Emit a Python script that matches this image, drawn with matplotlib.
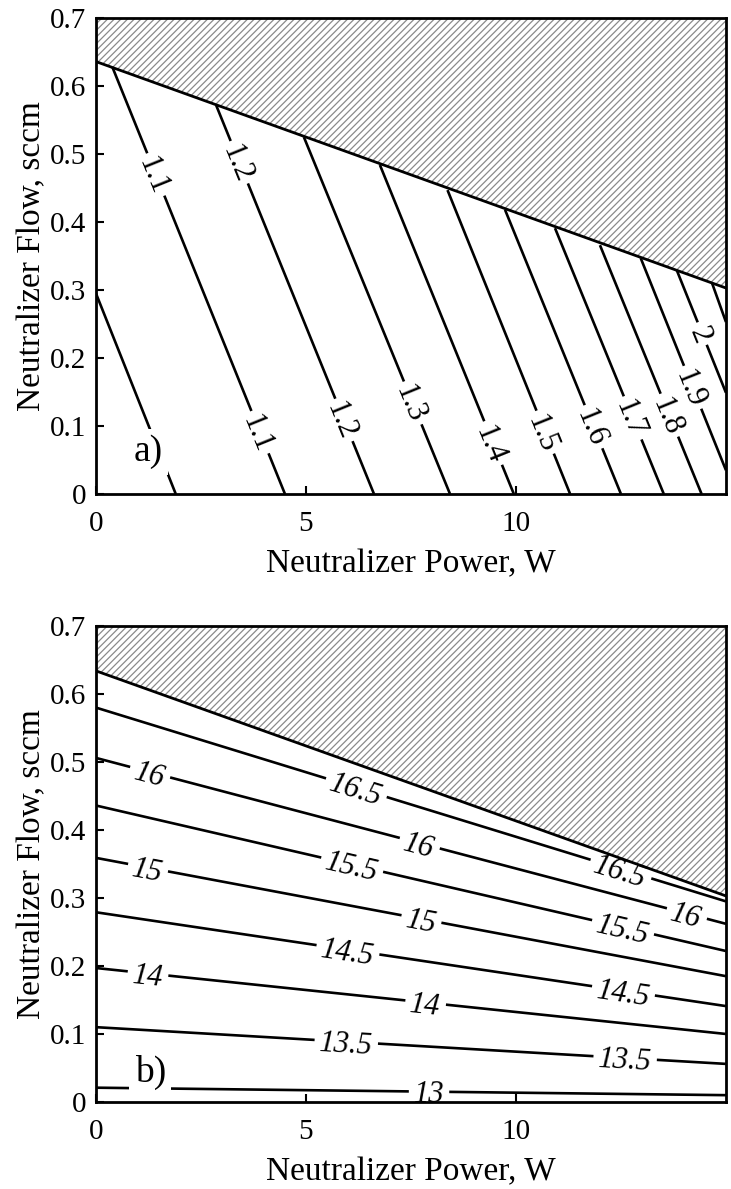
import matplotlib
matplotlib.use("Agg")
import matplotlib.pyplot as plt
import numpy as np
from matplotlib.font_manager import FontProperties
from matplotlib.textpath import TextPath

plt.rcParams["font.family"] = ["Liberation Serif", "DejaVu Serif"]
plt.rcParams["hatch.color"] = "#8a8a8a"
plt.rcParams["hatch.linewidth"] = 0.9

# ---- panel a: contour lines (upper end, lower end) ----
a_levels = [1.0, 1.1, 1.2, 1.3, 1.4, 1.5, 1.6, 1.7, 1.8, 1.9, 2.0, 2.1]
a_x_top = [0.0, 0.39, 2.86, 4.95, 6.76, 8.37, 9.74, 10.93, 12.0, 12.97, 13.83, 14.67]
a_y_top = [0.295, 0.628, 0.572, 0.525, 0.484, 0.447, 0.418, 0.391, 0.366, 0.347, 0.329, 0.31]
a_x_bot = [1.90, 4.50, 6.62, 8.43, 9.95, 11.29, 12.5, 13.52, 14.42, 15.0, 15.0, 15.0]
a_y_bot = [0, 0, 0, 0, 0, 0, 0, 0, 0, 0.035, 0.149, 0.253]
# inline labels: level and y position on the line
a_lab_level = [1.1, 1.2, 1.1, 1.2, 1.3, 1.4, 1.5, 1.6, 1.7, 1.8, 1.9, 2.0]
a_lab_y = [0.47, 0.488, 0.091, 0.109, 0.134, 0.075, 0.091, 0.099, 0.112, 0.116, 0.157, 0.236]
a_bound_x = [0, 15]
a_bound_y = [0.636, 0.303]

# ---- panel b: contour lines (left end at x=0, right end at x=15) ----
b_levels = [13, 13.5, 14, 14.5, 15, 15.5, 16, 16.5]
b_y_left = [0.021, 0.110, 0.197, 0.279, 0.359, 0.436, 0.506, 0.580]
b_y_right = [0.010, 0.056, 0.100, 0.141, 0.185, 0.222, 0.262, 0.295]
# inline labels: level and x position on the line
b_lab_level = [13, 13.5, 13.5, 14, 14, 14.5, 14.5, 15, 15, 15.5, 15.5, 16, 16, 16, 16.5, 16.5]
b_lab_x = [7.93, 5.96, 12.6, 1.24, 7.85, 6.0, 12.56, 1.24, 7.75, 6.1, 12.55, 1.29, 7.71, 14.07, 6.2, 12.5]
b_bound_x = [0, 15]
b_bound_y = [0.634, 0.303]

XMAX = 15.0
YMAX = 0.7
FS_LAB = 22


def text_width_px(s, fs, style, dpi):
    fp = FontProperties(family="Liberation Serif", style=style)
    ext = TextPath((0, 0), s, size=fs, prop=fp).get_extents()
    return ext.width * dpi / 72.0


def draw_labeled_line(ax, p0, p1, lab_params, style):
    fig = ax.figure
    tr = ax.transData
    inv = tr.inverted()
    d0 = tr.transform(p0)
    d1 = tr.transform(p1)
    vec = d1 - d0
    length = np.hypot(*vec)
    unit = vec / length
    ang = np.degrees(np.arctan2(vec[1], vec[0]))
    if ang > 90:
        ang -= 180
    elif ang <= -90:
        ang += 180
    gaps = []
    for t, txt in lab_params:
        c = d0 + unit * t * length
        h = text_width_px(txt, FS_LAB, style, fig.dpi) / 2 + 6
        gaps.append((t * length - h, t * length + h))
        cx, cy = inv.transform(c)
        ax.text(cx, cy, txt, fontsize=FS_LAB, fontstyle=style, rotation=ang,
                rotation_mode="anchor", ha="center", va="center_baseline",
                clip_on=True, zorder=4)
    gaps.sort()
    start = 0.0
    pieces = []
    for g0, g1 in gaps:
        if g0 > start:
            pieces.append((start, g0))
        start = max(start, g1)
    if start < length:
        pieces.append((start, length))
    for s0, s1 in pieces:
        q = inv.transform(np.array([d0 + unit * s0, d0 + unit * s1]))
        ax.plot(q[:, 0], q[:, 1], color="black", lw=1.9, solid_capstyle="butt",
                zorder=3)


def setup_axes(ax, bound_x, bound_y):
    ax.set_xlim(0, XMAX)
    ax.set_ylim(0, YMAX)
    ax.fill_between(bound_x, bound_y, YMAX, facecolor="white", edgecolor="#8a8a8a",
                    hatch="/////", linewidth=0, zorder=1)
    ax.plot(bound_x, bound_y, color="black", lw=2.0, zorder=3)
    ax.set_xticks([0, 5, 10])
    ax.set_yticks(np.arange(0, 0.71, 0.1))
    ax.set_yticklabels(["0"] + [f"{v:.1f}" for v in np.arange(0.1, 0.71, 0.1)])
    ax.tick_params(direction="in", length=6, width=1.5, labelsize=21, pad=7)
    ax.tick_params(axis="x", pad=12)
    for sp in ax.spines.values():
        sp.set_linewidth(2.0)
        sp.set_zorder(5)
    ax.set_xlabel("Neutralizer Power, W", fontsize=24, labelpad=9)
    ax.set_ylabel("Neutralizer Flow, sccm", fontsize=24, labelpad=2)


fig = plt.figure(figsize=(7.31, 11.89), dpi=100)
ax_a = fig.add_axes([0.1313, 0.5845, 0.8618, 0.4003])
ax_b = fig.add_axes([0.1313, 0.0732, 0.8618, 0.4003])

setup_axes(ax_a, a_bound_x, a_bound_y)
setup_axes(ax_b, b_bound_x, b_bound_y)

# panel a lines
for i, lev in enumerate(a_levels):
    p0 = (a_x_top[i], a_y_top[i])
    p1 = (a_x_bot[i], a_y_bot[i])
    labs = []
    for lv, ly in zip(a_lab_level, a_lab_y):
        if np.isclose(lv, lev):
            t = (ly - p0[1]) / (p1[1] - p0[1])
            labs.append((t, f"{lv:g}"))
    draw_labeled_line(ax_a, p0, p1, labs, "normal")

# panel b lines
for i, lev in enumerate(b_levels):
    p0 = (0.0, b_y_left[i])
    p1 = (XMAX, b_y_right[i])
    labs = []
    for lv, lx in zip(b_lab_level, b_lab_x):
        if np.isclose(lv, lev):
            labs.append((lx / XMAX, f"{lv:g}"))
    draw_labeled_line(ax_b, p0, p1, labs, "italic")

box = dict(boxstyle="square,pad=0.15", facecolor="white", edgecolor="none")
ax_a.text(1.24, 0.062, "a)", fontsize=27, ha="center", va="center", bbox=box, zorder=6)
ax_b.text(1.29, 0.043, "b)", fontsize=27, ha="center", va="center", bbox=box, zorder=6)

fig.savefig("out.png", dpi=100)
